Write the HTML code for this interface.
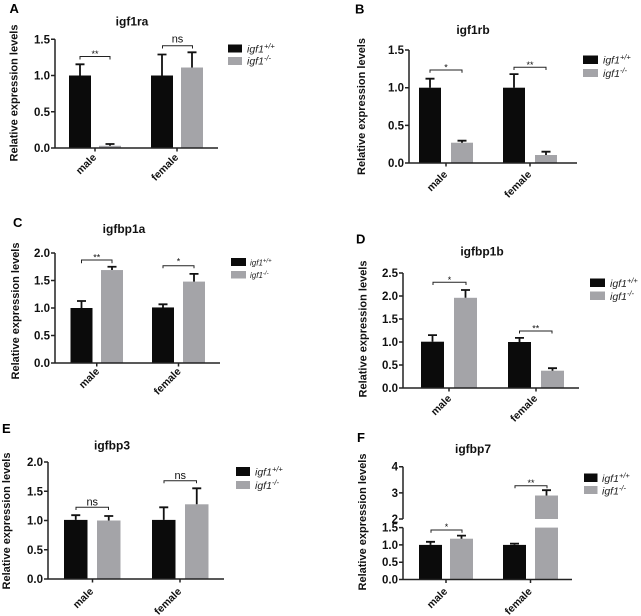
<!DOCTYPE html>
<html><head><meta charset="utf-8"><style>
html,body{margin:0;padding:0;background:#fff;}
svg{display:block;}
.tk{font-family:"Liberation Sans",Arial,sans-serif;font-weight:bold;font-size:11.5px;fill:#111;text-anchor:end;}
.ti{font-family:"Liberation Sans",Arial,sans-serif;font-weight:bold;font-size:12px;fill:#111;text-anchor:middle;}
.yl{font-family:"Liberation Sans",Arial,sans-serif;font-weight:bold;font-size:11px;fill:#111;text-anchor:middle;}
.xl{font-family:"Liberation Sans",Arial,sans-serif;font-weight:bold;font-size:10.5px;fill:#111;text-anchor:end;}
.pl{font-family:"Liberation Sans",Arial,sans-serif;font-weight:bold;font-size:13px;fill:#000;}
.lg{font-family:"Liberation Sans",Arial,sans-serif;font-style:italic;font-size:10.5px;fill:#222;}
.lgs{font-family:"Liberation Sans",Arial,sans-serif;font-style:italic;font-size:8px;fill:#222;}
.st{font-family:"Liberation Sans",Arial,sans-serif;font-size:9px;fill:#111;text-anchor:middle;}
.ns{font-family:"Liberation Sans",Arial,sans-serif;font-size:11px;fill:#111;text-anchor:middle;}
.ax{stroke:#222;stroke-width:1.5;fill:none;}
.eb{stroke:#111;stroke-width:1.8;fill:none;}
.br{stroke:#222;stroke-width:1;fill:none;}
.k{fill:#0b0b0b;}
.g{fill:#a4a4a8;}
</style></head><body>
<svg width="641" height="616" viewBox="0 0 641 616" xmlns="http://www.w3.org/2000/svg">
<rect width="641" height="616" fill="#fff"/>

<!-- Panel A -->
<text class="pl" x="9.5" y="13">A</text>
<text class="ti" x="132" y="25.5">igf1ra</text>
<text class="yl" transform="translate(17.5,93) rotate(-90)">Relative expression levels</text>
<rect class="k" x="69" y="75.5" width="22" height="72.5"/>
<rect class="g" x="99" y="145.8" width="22" height="2.2"/>
<rect class="k" x="151" y="75.5" width="22" height="72.5"/>
<rect class="g" x="181" y="67.5" width="22" height="80.5"/>
<path class="eb" d="M80 75.5V64.3M75.5 64.3H84.5M110 145.8V144M105.5 144H114.5M162 75.5V54.5M157.5 54.5H166.5M192 67.5V52.3M187.5 52.3H196.5"/>
<path class="ax" d="M55 39.3V148H218M51 39.3H55M51 75.5H55M51 111.75H55M51 148H55M95 148V151.5M177 148V151.5"/>
<text class="tk" x="50" y="43.3">1.5</text>
<text class="tk" x="50" y="79.5">1.0</text>
<text class="tk" x="50" y="115.75">0.5</text>
<text class="tk" x="50" y="152">0.0</text>
<path class="br" d="M80 59.5V56.5H110V59.5M162.5 48.5V45.7H192.5V48.5"/>
<text class="st" x="95" y="57">**</text>
<text class="ns" x="177.5" y="42.3">ns</text>
<text class="xl" transform="translate(97,158) rotate(-45)">male</text>
<text class="xl" transform="translate(179,158) rotate(-45)">female</text>
<rect class="k" x="228" y="44.5" width="14" height="8"/>
<rect class="g" x="228" y="57" width="14" height="8"/>
<text class="lg" x="247" y="52.5">igf1<tspan font-size="7.5" dy="-4">+/+</tspan></text>
<text class="lg" x="247" y="64.5">igf1<tspan font-size="7.5" dy="-4">-/-</tspan></text>

<!-- Panel B -->
<text class="pl" x="355" y="13.5">B</text>
<text class="ti" x="473" y="34">igf1rb</text>
<text class="yl" transform="translate(365,106.5) rotate(-90)">Relative expression levels</text>
<rect class="k" x="419" y="87.7" width="22" height="75.3"/>
<rect class="g" x="451" y="142.7" width="22" height="20.3"/>
<rect class="k" x="503" y="87.7" width="22" height="75.3"/>
<rect class="g" x="535" y="155" width="22" height="8"/>
<path class="eb" d="M430 87.7V78.7M425.5 78.7H434.5M462 142.7V140.7M457.5 140.7H466.5M514 87.7V74.1M509.5 74.1H518.5M546 155V151.7M541.5 151.7H550.5"/>
<path class="ax" d="M409 50V163H577M405 50.05H409M405 87.7H409M405 125.35H409M405 163H409M446 163V166.5M530 163V166.5"/>
<text class="tk" x="404" y="54">1.5</text>
<text class="tk" x="404" y="91.7">1.0</text>
<text class="tk" x="404" y="129.35">0.5</text>
<text class="tk" x="404" y="167">0.0</text>
<path class="br" d="M430 72.7V70H462V72.7M514 70V67.3H546V70"/>
<text class="st" x="446" y="70.5">*</text>
<text class="st" x="530" y="68">**</text>
<text class="xl" transform="translate(448,175) rotate(-45)">male</text>
<text class="xl" transform="translate(532,175) rotate(-45)">female</text>
<rect class="k" x="583" y="55.5" width="15" height="8.5"/>
<rect class="g" x="583" y="69" width="15" height="8"/>
<text class="lg" x="603" y="63.5">igf1<tspan font-size="7.5" dy="-4">+/+</tspan></text>
<text class="lg" x="603" y="77">igf1<tspan font-size="7.5" dy="-4">-/-</tspan></text>

<!-- Panel C -->
<text class="pl" x="13" y="227">C</text>
<text class="ti" x="124" y="233">igfbp1a</text>
<text class="yl" transform="translate(19,311) rotate(-90)">Relative expression levels</text>
<rect class="k" x="70.5" y="308" width="22" height="55"/>
<rect class="g" x="101" y="270.05" width="22" height="92.95"/>
<rect class="k" x="152" y="307.45" width="22" height="55.55"/>
<rect class="g" x="183" y="281.6" width="22" height="81.4"/>
<path class="eb" d="M81.5 308V301M77 301H86M112 270V266.75M107.5 266.75H116.5M163 307.45V304.3M158.5 304.3H167.5M194 281.6V273.9M189.5 273.9H198.5"/>
<path class="ax" d="M55 253V363H220M51 253H55M51 280.5H55M51 308H55M51 335.5H55M51 363H55M96.75 363V366.5M178.5 363V366.5"/>
<text class="tk" x="50" y="257">2.0</text>
<text class="tk" x="50" y="284.5">1.5</text>
<text class="tk" x="50" y="312">1.0</text>
<text class="tk" x="50" y="339.5">0.5</text>
<text class="tk" x="50" y="367">0.0</text>
<path class="br" d="M81.5 263.3V260H112V263.3M163 268.3V265.7H194V268.3"/>
<text class="st" x="96.75" y="260.5">**</text>
<text class="st" x="178.5" y="264.5">*</text>
<text class="xl" transform="translate(100,372) rotate(-45)">male</text>
<text class="xl" transform="translate(181.5,372) rotate(-45)">female</text>
<rect class="k" x="231" y="258" width="15" height="8"/>
<rect class="g" x="231" y="271" width="15" height="7.5"/>
<text class="lgs" x="250" y="265.5">igf1<tspan font-size="6" dy="-3">+/+</tspan></text>
<text class="lgs" x="250" y="278">igf1<tspan font-size="6" dy="-3">-/-</tspan></text>

<!-- Panel D -->
<text class="pl" x="356" y="243.5">D</text>
<text class="ti" x="482" y="255.5">igfbp1b</text>
<text class="yl" transform="translate(366.5,329) rotate(-90)">Relative expression levels</text>
<rect class="k" x="421" y="341.7" width="23" height="46.3"/>
<rect class="g" x="454" y="297.8" width="23" height="90.2"/>
<rect class="k" x="508" y="342" width="23" height="46"/>
<rect class="g" x="541" y="370.7" width="23" height="17.3"/>
<path class="eb" d="M432.5 341.7V335.1M428 335.1H437M465.5 297.8V290M461 290H470M519.5 342V337.9M515 337.9H524M552.5 370.7V368.2M548 368.2H557"/>
<path class="ax" d="M403 273V388H579M399 273H403M399 296H403M399 319H403M399 342H403M399 365H403M399 388H403M449 388V391.5M536 388V391.5"/>
<text class="tk" x="398" y="277">2.5</text>
<text class="tk" x="398" y="300">2.0</text>
<text class="tk" x="398" y="323">1.5</text>
<text class="tk" x="398" y="346">1.0</text>
<text class="tk" x="398" y="369">0.5</text>
<text class="tk" x="398" y="392">0.0</text>
<path class="br" d="M433 285V282.3H466V285M519.5 333.5V331H552V333.5"/>
<text class="st" x="449.5" y="283">*</text>
<text class="st" x="535.75" y="331.5">**</text>
<text class="xl" transform="translate(452,399) rotate(-45)">male</text>
<text class="xl" transform="translate(538,399) rotate(-45)">female</text>
<rect class="k" x="590" y="278.5" width="15" height="8.5"/>
<rect class="g" x="590" y="291.5" width="15" height="8.5"/>
<text class="lg" x="610" y="287">igf1<tspan font-size="7.5" dy="-4">+/+</tspan></text>
<text class="lg" x="610" y="300">igf1<tspan font-size="7.5" dy="-4">-/-</tspan></text>

<!-- Panel E -->
<text class="pl" x="2" y="433">E</text>
<text class="ti" x="112" y="449.5">igfbp3</text>
<text class="yl" transform="translate(10,521) rotate(-90)">Relative expression levels</text>
<rect class="k" x="64" y="519.9" width="23.5" height="59.1"/>
<rect class="g" x="97" y="520.5" width="23.5" height="58.5"/>
<rect class="k" x="152" y="519.9" width="23.5" height="59.1"/>
<rect class="g" x="185" y="504.3" width="23.5" height="74.7"/>
<path class="eb" d="M75.75 519.9V515.2M71.25 515.2H80.25M108.75 520.5V516M104.25 516H113.25M163.75 519.9V507.3M159.25 507.3H168.25M196.75 504.3V488.3M192.25 488.3H201.25"/>
<path class="ax" d="M48 462V579H224M44 462H48M44 491.25H48M44 520.5H48M44 549.75H48M44 579H48M92.5 579V582.5M180 579V582.5"/>
<text class="tk" x="43" y="466">2.0</text>
<text class="tk" x="43" y="495.25">1.5</text>
<text class="tk" x="43" y="524.5">1.0</text>
<text class="tk" x="43" y="553.75">0.5</text>
<text class="tk" x="43" y="583">0.0</text>
<path class="br" d="M76 510V507.3H108.5V510M164 483.3V480.7H196.5V483.3"/>
<text class="ns" x="92.25" y="505.5">ns</text>
<text class="ns" x="180.25" y="479">ns</text>
<text class="xl" transform="translate(94,592) rotate(-45)">male</text>
<text class="xl" transform="translate(182,592) rotate(-45)">female</text>
<rect class="k" x="236" y="467" width="14" height="9"/>
<rect class="g" x="236" y="481" width="14" height="8"/>
<text class="lg" x="255" y="475.5">igf1<tspan font-size="7.5" dy="-4">+/+</tspan></text>
<text class="lg" x="255" y="489">igf1<tspan font-size="7.5" dy="-4">-/-</tspan></text>

<!-- Panel F -->
<text class="pl" x="357" y="442">F</text>
<text class="ti" x="473" y="453">igfbp7</text>
<text class="yl" transform="translate(366,522) rotate(-90)">Relative expression levels</text>
<rect class="k" x="419" y="544.9" width="23" height="34.6"/>
<rect class="g" x="450" y="538.7" width="23" height="40.8"/>
<rect class="k" x="503" y="544.9" width="23" height="34.6"/>
<rect class="g" x="535" y="527.6" width="23" height="51.9"/>
<rect class="g" x="535" y="495.5" width="23" height="23.5"/>
<path class="eb" d="M430.5 544.9V541.8M426 541.8H435M461.5 538.7V535.6M457 535.6H466M514.5 544.9V543.6M510 543.6H519M546.5 495.5V490.2M542 490.2H551"/>
<path class="ax" d="M403 466.7V519M403 527.6V579.5H572M399 466.7H403M399 492.9H403M399 519H403M399 527.6H403M399 544.9H403M399 562.2H403M399 579.5H403M446 579.5V583M530.5 579.5V583"/>
<text class="tk" x="398" y="470.7">4</text>
<text class="tk" x="398" y="496.9">3</text>
<text class="tk" x="398" y="523">2</text>
<text class="tk" x="398" y="531.6">1.5</text>
<text class="tk" x="398" y="548.9">1.0</text>
<text class="tk" x="398" y="566.2">0.5</text>
<text class="tk" x="398" y="583.5">0.0</text>
<path class="br" d="M431 532.7V530H462V532.7M515 488.3V485.7H547V488.3"/>
<text class="st" x="446.5" y="530">*</text>
<text class="st" x="531" y="486">**</text>
<text class="xl" transform="translate(448,592) rotate(-45)">male</text>
<text class="xl" transform="translate(532.5,592) rotate(-45)">female</text>
<rect class="k" x="584" y="473.5" width="13.5" height="8.5"/>
<rect class="g" x="584" y="486" width="13.5" height="8"/>
<text class="lg" x="602" y="482">igf1<tspan font-size="7.5" dy="-4">+/+</tspan></text>
<text class="lg" x="602" y="494.5">igf1<tspan font-size="7.5" dy="-4">-/-</tspan></text>
</svg>
</body></html>
